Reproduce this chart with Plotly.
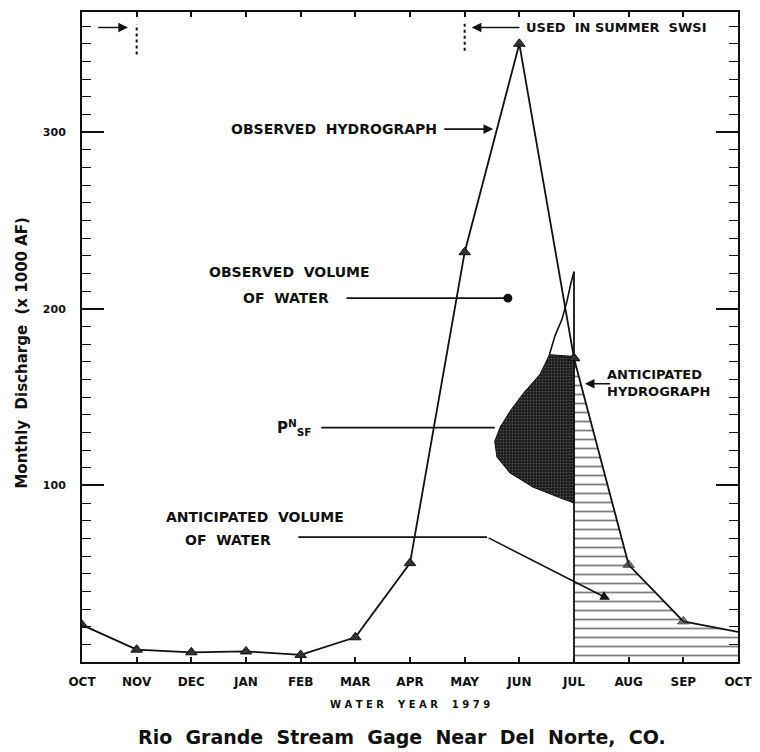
import plotly.graph_objects as go

# ---------------- data ----------------
months = ["OCT", "NOV", "DEC", "JAN", "FEB", "MAR", "APR", "MAY", "JUN", "JUL", "AUG", "SEP", "OCT"]
month_pos = list(range(len(months)))

observed_pos = month_pos[:10]
observed_flow = [21, 7, 5.5, 6, 4, 14, 56, 232, 350, 172]

anticipated_pos = month_pos[9:]
anticipated_flow = [172, 55, 23, 17]
anticipated_marker = [10, 10, 10, 0]

# PN_SF shaded volume outline (month position, flow)
pnsf_pos = [9.0, 8.55, 8.38, 8.07, 7.83, 7.65, 7.55, 7.59, 7.83, 8.25, 8.74, 9.0, 9.0]
pnsf_flow = [173, 174, 163, 152, 142, 133, 125, 116, 107, 99, 93, 90, 173]
pnsf_tail_pos = [8.55, 8.65, 8.78, 8.87, 8.94, 9.0]
pnsf_tail_flow = [174, 184.5, 194, 204, 214, 221]

divider_pos = [9, 9]
divider_flow = [0, 221]

y_major = [100, 200, 300]
y_range = [0, 368]

INK = "#111111"
FONT = "DejaVu Sans"

fig = go.Figure()

# hatched anticipated volume
fig.add_trace(go.Scatter(
    x=anticipated_pos, y=anticipated_flow, mode="lines", fill="tozeroy",
    fillpattern=dict(shape="-", size=9, solidity=0.2, fgcolor="#000000", bgcolor="white"),
    line=dict(color=INK, width=1.8), hoverinfo="skip", showlegend=False))

# PN_SF shaded blob
fig.add_trace(go.Scatter(
    x=pnsf_pos, y=pnsf_flow, mode="lines", fill="toself",
    fillcolor="#2a2a2a",
    fillpattern=dict(shape=".", size=3, solidity=0.25, fgcolor="#8a8a8a", bgcolor="#1e1e1e"),
    line=dict(color=INK, width=1), hoverinfo="skip", showlegend=False))

fig.add_trace(go.Scatter(x=pnsf_tail_pos, y=pnsf_tail_flow, mode="lines",
                         line=dict(color=INK, width=1.6), showlegend=False))
fig.add_trace(go.Scatter(x=divider_pos, y=divider_flow, mode="lines",
                         line=dict(color=INK, width=1.8), showlegend=False))

# observed hydrograph
fig.add_trace(go.Scatter(
    x=observed_pos, y=observed_flow, mode="lines+markers",
    line=dict(color=INK, width=1.8),
    marker=dict(symbol="triangle-up", size=10, color="#333333", line=dict(color=INK, width=1)),
    showlegend=False))

# anticipated markers
fig.add_trace(go.Scatter(
    x=anticipated_pos, y=anticipated_flow, mode="markers",
    marker=dict(symbol="triangle-up", size=anticipated_marker, color="#333333",
                line=dict(color=INK, width=1)),
    showlegend=False))

# ---------------- annotations ----------------
txt = dict(family=FONT, size=14, color=INK, weight="bold")
mid = dict(family=FONT, size=13, color=INK, weight="bold")
ann = []

def label(x, y, text, font=txt, xanchor="center", align="center"):
    ann.append(dict(x=x, y=y, xref="x", yref="y", text=text, showarrow=False,
                    font=font, xanchor=xanchor, yanchor="middle", align=align))

def arrow(x0, y0, x1, y1, head=2, size=1.2, width=1.6):
    ann.append(dict(x=x1, y=y1, ax=x0, ay=y0, xref="x", yref="y", axref="x", ayref="y",
                    text="", showarrow=True, arrowhead=head, arrowsize=size,
                    arrowwidth=width, arrowcolor=INK, standoff=0, startstandoff=0))

label(4.61, 301.7, "OBSERVED  HYDROGRAPH")
arrow(6.60, 301.7, 7.52, 301.7)

label(9.77, 359.2, "USED  IN SUMMER  SWSI", font=mid)
arrow(8.03, 359.2, 7.13, 359.2)
arrow(0.27, 359.2, 0.84, 359.2)

label(3.80, 221, "OBSERVED  VOLUME")
label(3.73, 206, "OF  WATER")
arrow(4.81, 206, 7.79, 206, head=6, size=1.4)

label(3.88, 133, "P<sup>N</sup><sub>SF</sub>", font=dict(family=FONT, size=15, color=INK, weight="bold"))
arrow(4.35, 132.7, 7.55, 132.7, head=0)

label(3.17, 82, "ANTICIPATED  VOLUME")
label(2.67, 69, "OF  WATER")
arrow(3.93, 70.7, 7.41, 70.7, head=0)
arrow(7.41, 70.7, 9.66, 35.2, head=2)

label(9.57, 158, "ANTICIPATED<br>HYDROGRAPH", font=mid, xanchor="left", align="left")
arrow(9.69, 157.5, 9.2, 157.5)

# y axis title and bottom captions
ann.append(dict(x=-0.0915, y=0.476, xref="paper", yref="paper", textangle=-90,
                xanchor="center", yanchor="middle",
                text="Monthly  Discharge  (x 1000 AF)", showarrow=False,
                font=dict(family=FONT, size=15, color=INK, weight="bold")))
ann.append(dict(x=0.5, y=-0.065, xref="paper", yref="paper",
                xanchor="center", yanchor="middle",
                text="W A T E R    Y E A R    1 9 7 9", showarrow=False,
                font=dict(family=FONT, size=10, color=INK, weight="bold")))
ann.append(dict(x=0.488, y=-0.1157, xref="paper", yref="paper",
                xanchor="center", yanchor="middle",
                text="Rio  Grande  Stream  Gage  Near  Del  Norte,  CO.", showarrow=False,
                font=dict(family=FONT, size=19, color=INK, weight="bold")))

shapes = [
    dict(type="line", xref="x", yref="y", x0=7, x1=7, y0=346, y1=362,
         line=dict(color=INK, width=2, dash="dot")),
    dict(type="line", xref="x", yref="y", x0=1, x1=1, y0=344, y1=361,
         line=dict(color=INK, width=2, dash="dot")),
]

# the page body adds an 8px offset, so the figure is 8px smaller and margins shifted
fig.update_layout(
    width=752, height=744,
    margin=dict(l=74, r=22, t=2, b=89.5),
    paper_bgcolor="white", plot_bgcolor="white",
    annotations=ann, shapes=shapes, showlegend=False,
    xaxis=dict(range=[0, 12], tickvals=month_pos, ticktext=months,
               ticks="inside", ticklen=5, tickwidth=1.5, tickcolor=INK,
               showline=True, linecolor=INK, linewidth=2, mirror="ticks",
               showgrid=False, zeroline=False, ticklabelstandoff=8,
               tickfont=dict(family=FONT, size=12, color=INK, weight="bold")),
    yaxis=dict(range=y_range, tickvals=y_major, ticktext=[str(v) for v in y_major],
               ticks="inside", ticklen=22, tickwidth=1.5, tickcolor=INK,
               minor=dict(dtick=10, ticks="inside", ticklen=9, tickwidth=1.2, tickcolor=INK,
                          showgrid=False),
               showline=True, linecolor=INK, linewidth=2, mirror="ticks",
               showgrid=False, zeroline=False, ticklabelstandoff=12,
               tickfont=dict(family=FONT, size=11, color=INK, weight="bold")),
)

fig.write_html("out.html")
